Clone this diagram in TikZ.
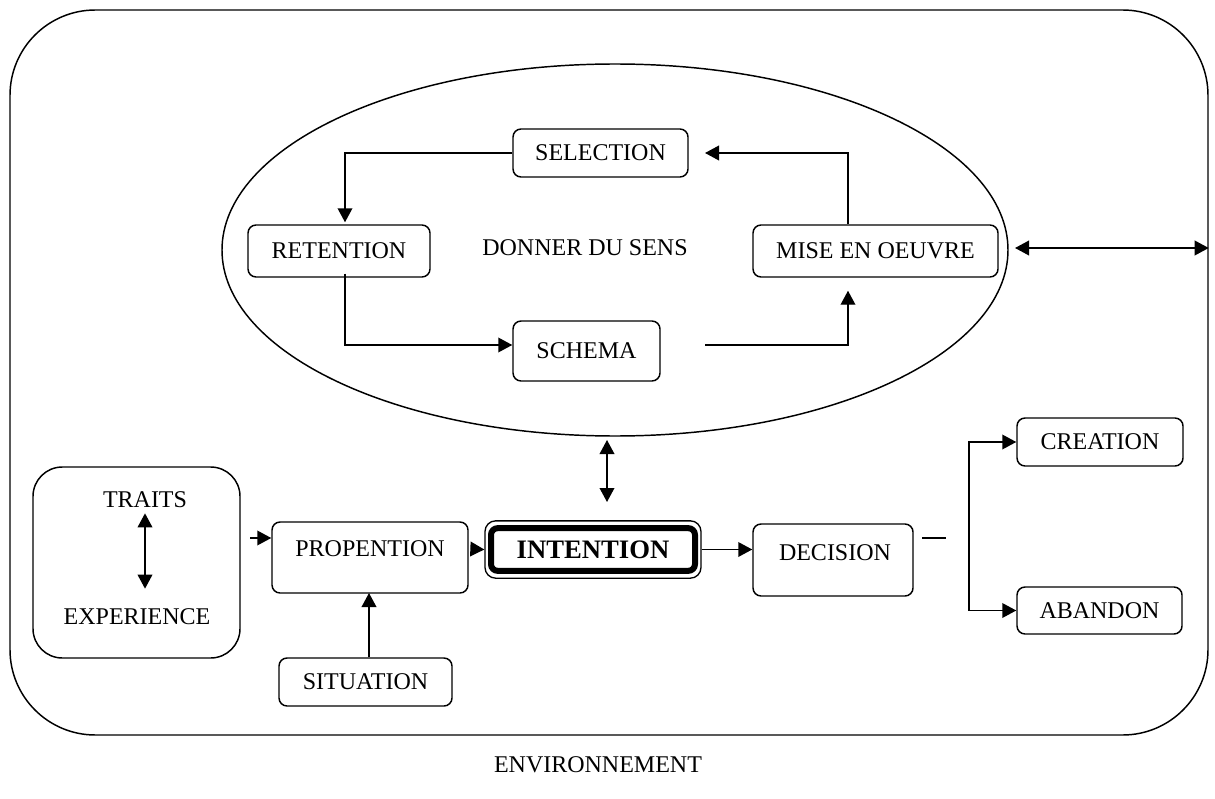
\documentclass[tikz,border=0pt]{standalone}
\usepackage{fontspec}
\setmainfont{Liberation Serif}
\usetikzlibrary{shapes.geometric,arrows.meta,calc}
\tikzset{
  box/.style={draw, line width=1.1pt, rounded corners=6pt, inner sep=0pt, font=\fontsize{18}{21}\selectfont},
  txt/.style={inner sep=0pt, font=\fontsize{18}{21}\selectfont},
  tip/.style={},
  arr/.style={line width=1.1pt, -{Triangle[length=10.5pt,width=11pt]}},
  darr/.style={line width=1.1pt, {Triangle[length=10.5pt,width=11pt]}-{Triangle[length=10.5pt,width=11pt]}},
  ln/.style={line width=1.1pt}
}
\begin{document}
\begin{tikzpicture}[x=0.75pt,y=-0.75pt]
\useasboundingbox (0,0) rectangle (1215,799);
% environment frame
\node[draw, line width=1.1pt, rounded corners=64pt, minimum width=898.5pt, minimum height=543.75pt, inner sep=0pt] (env) at (609,372.5) {};
% ellipse
\node[draw, ellipse, line width=1.1pt, minimum width=589.5pt, minimum height=279pt, inner sep=0pt] (sens) at (615,250) {};
\node[txt] (don) at (585,248) {DONNER DU SENS};
% boxes
\node[box, minimum width=131.25pt, minimum height=36pt] (sel) at (600.5,153) {SELECTION};
\node[box, minimum width=136.5pt, minimum height=39pt] (ret) at (339,251) {RETENTION};
\node[box, minimum width=183.75pt, minimum height=39pt] (mise) at (875.5,251) {MISE EN OEUVRE};
\node[box, minimum width=110.25pt, minimum height=45pt] (sch) at (586.5,351) {SCHEMA};
\node[box, rounded corners=22pt, minimum width=155.25pt, minimum height=143.25pt] (te) at (136.5,562.5) {};
\node[txt] (traits) at (145,500) {TRAITS};
\node[txt] (exp) at (137,617) {EXPERIENCE};
\node[box, minimum width=147pt, minimum height=53.25pt] (prop) at (370,557.5) {};
\node[txt] (propt) at (370,549) {PROPENTION};
\node[draw, line width=1pt, rounded corners=8pt, minimum width=162pt, minimum height=43pt, inner sep=0pt] (into) at (593,549.5) {};
\node[draw, line width=4.5pt, rounded corners=5pt, minimum width=153pt, minimum height=32pt, inner sep=0pt, font=\fontsize{20}{23}\selectfont\bfseries] (int) at (593,549.5) {INTENTION};
\node[box, minimum width=120pt, minimum height=54pt] (dec) at (833,560) {};
\node[txt] (dect) at (835,553) {DECISION};
\node[box, minimum width=124.5pt, minimum height=36pt] (cre) at (1100,442) {CREATION};
\node[box, minimum width=123.75pt, minimum height=35.25pt] (aba) at (1099.5,610.5) {ABANDON};
\node[box, minimum width=129.75pt, minimum height=36pt] (sit) at (365.5,682) {SITUATION};
\node[txt] (envt) at (598,765) {ENVIRONNEMENT};
% connectors inside ellipse
\draw[arr] (sel.west) -| ($(ret.north)+(6,-2)$);
\draw[arr] ($(ret.south)+(6,-4)$) |- ($(sch.west)+(0,-6)$);
\coordinate (s1) at (705,345);
\draw[arr] (s1) -| ($(mise.south)+(-27.5,13)$);
\coordinate (s2) at (705,153);
\draw[arr] ($(mise.north)+(-27.5,0)$) |- (s2);
% right double arrow
\coordinate (r1) at (1015,248);
\draw[darr] (r1) -- (r1 -| env.east);
% ellipse to intention
\coordinate (v1) at (607,440);
\coordinate (v2) at (607,502);
\draw[darr] (v1) -- (v2);
% traits/experience
\draw[darr] ($(traits.south)+(0,5)$) -- ($(exp.north)+(8,-20)$);
% to propention
\coordinate (p0) at (250,538);
\draw[arr] (p0) -- (p0 -| prop.west);
\draw[arr] ($(prop.east)+(2,-8.5)$) -- (into.west);
\draw[arr] (sit.north -| 369,0) -- (369,593);
% intention to decision
\draw[arr] (into.east) -- (into.east -| dec.west);
% decision stub and branch
\coordinate (d1) at (922,538);
\coordinate (d2) at (946,538);
\draw[ln] (d1) -- (d2);
\coordinate (br) at (969,526);
\draw[arr] (br) |- (cre.west);
\draw[arr] (br) |- (aba.west);
\end{tikzpicture}
\end{document}
